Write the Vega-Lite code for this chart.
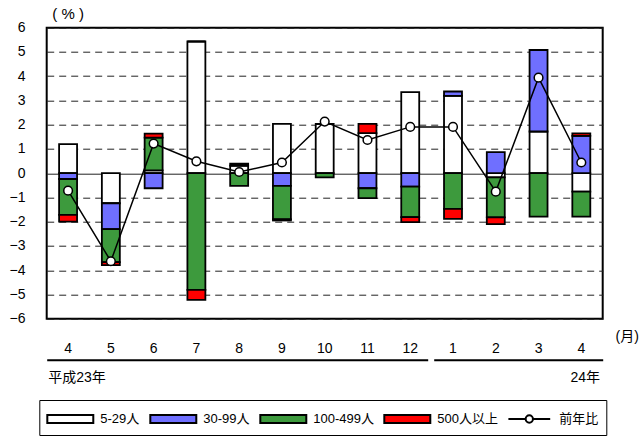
{
  "$schema": "https://vega.github.io/schema/vega-lite/v6.json",
  "width": 556,
  "height": 291,
  "autosize": {"type": "none"},
  "padding": {"left": 46.7, "top": 27.7, "right": 38.3, "bottom": 117.3},
  "config": {
    "view": {"stroke": "#000", "strokeWidth": 2},
    "font": "Liberation Sans, Noto Sans CJK JP, sans-serif"
  },
  "resolve": {"axis": {"x": "independent", "y": "independent"}},
  "datasets": {
    "bars": [
      {"m": "H23-4", "s": "5-29人", "k": 1, "v": 1.2},
      {"m": "H23-4", "s": "30-99人", "k": 2, "v": -0.24},
      {"m": "H23-4", "s": "100-499人", "k": 3, "v": -1.48},
      {"m": "H23-4", "s": "500人以上", "k": 4, "v": -0.28},
      {"m": "H23-5", "s": "5-29人", "k": 1, "v": -1.24},
      {"m": "H23-5", "s": "30-99人", "k": 2, "v": -1.07},
      {"m": "H23-5", "s": "100-499人", "k": 3, "v": -1.36},
      {"m": "H23-5", "s": "500人以上", "k": 4, "v": -0.12},
      {"m": "H23-6", "s": "5-29人", "k": 1, "v": 0.12},
      {"m": "H23-6", "s": "30-99人", "k": 2, "v": -0.62},
      {"m": "H23-6", "s": "100-499人", "k": 3, "v": 1.35},
      {"m": "H23-6", "s": "500人以上", "k": 4, "v": 0.16},
      {"m": "H23-7", "s": "5-29人", "k": 1, "v": 5.43},
      {"m": "H23-7", "s": "30-99人", "k": 2, "v": 0},
      {"m": "H23-7", "s": "100-499人", "k": 3, "v": -4.81},
      {"m": "H23-7", "s": "500人以上", "k": 4, "v": -0.41},
      {"m": "H23-8", "s": "5-29人", "k": 1, "v": 0.31},
      {"m": "H23-8", "s": "30-99人", "k": 2, "v": 0},
      {"m": "H23-8", "s": "100-499人", "k": 3, "v": -0.52},
      {"m": "H23-8", "s": "500人以上", "k": 4, "v": 0.08},
      {"m": "H23-9", "s": "5-29人", "k": 1, "v": 2.03},
      {"m": "H23-9", "s": "30-99人", "k": 2, "v": -0.52},
      {"m": "H23-9", "s": "100-499人", "k": 3, "v": -1.38},
      {"m": "H23-9", "s": "500人以上", "k": 4, "v": -0.05},
      {"m": "H23-10", "s": "5-29人", "k": 1, "v": 2.03},
      {"m": "H23-10", "s": "30-99人", "k": 2, "v": 0},
      {"m": "H23-10", "s": "100-499人", "k": 3, "v": -0.17},
      {"m": "H23-10", "s": "500人以上", "k": 4, "v": 0},
      {"m": "H23-11", "s": "5-29人", "k": 1, "v": 1.65},
      {"m": "H23-11", "s": "30-99人", "k": 2, "v": -0.62},
      {"m": "H23-11", "s": "100-499人", "k": 3, "v": -0.41},
      {"m": "H23-11", "s": "500人以上", "k": 4, "v": 0.38},
      {"m": "H23-12", "s": "5-29人", "k": 1, "v": 3.34},
      {"m": "H23-12", "s": "30-99人", "k": 2, "v": -0.55},
      {"m": "H23-12", "s": "100-499人", "k": 3, "v": -1.26},
      {"m": "H23-12", "s": "500人以上", "k": 4, "v": -0.21},
      {"m": "H24-1", "s": "5-29人", "k": 1, "v": 3.19},
      {"m": "H24-1", "s": "30-99人", "k": 2, "v": 0.18},
      {"m": "H24-1", "s": "100-499人", "k": 3, "v": -1.47},
      {"m": "H24-1", "s": "500人以上", "k": 4, "v": -0.41},
      {"m": "H24-2", "s": "5-29人", "k": 1, "v": -0.17},
      {"m": "H24-2", "s": "30-99人", "k": 2, "v": 0.87},
      {"m": "H24-2", "s": "100-499人", "k": 3, "v": -1.65},
      {"m": "H24-2", "s": "500人以上", "k": 4, "v": -0.28},
      {"m": "H24-3", "s": "5-29人", "k": 1, "v": 1.72},
      {"m": "H24-3", "s": "30-99人", "k": 2, "v": 3.36},
      {"m": "H24-3", "s": "100-499人", "k": 3, "v": -1.79},
      {"m": "H24-3", "s": "500人以上", "k": 4, "v": 0},
      {"m": "H24-4", "s": "5-29人", "k": 1, "v": -0.76},
      {"m": "H24-4", "s": "30-99人", "k": 2, "v": 1.54},
      {"m": "H24-4", "s": "100-499人", "k": 3, "v": -1.03},
      {"m": "H24-4", "s": "500人以上", "k": 4, "v": 0.1}
    ],
    "line": [
      {"m": "H23-4", "r": -0.72},
      {"m": "H23-5", "r": -3.63},
      {"m": "H23-6", "r": 1.22},
      {"m": "H23-7", "r": 0.49},
      {"m": "H23-8", "r": 0.05},
      {"m": "H23-9", "r": 0.44},
      {"m": "H23-10", "r": 2.13},
      {"m": "H23-11", "r": 1.37},
      {"m": "H23-12", "r": 1.91},
      {"m": "H24-1", "r": 1.91},
      {"m": "H24-2", "r": -0.76},
      {"m": "H24-3", "r": 3.94},
      {"m": "H24-4", "r": 0.44}
    ]
  },
  "layer": [
    {
      "data": {"name": "bars"},
      "mark": {"type": "bar", "stroke": "#000", "strokeWidth": 1.8},
      "encoding": {
        "x": {
          "field": "m",
          "type": "ordinal",
          "scale": {
            "domain": ["H23-4", "H23-5", "H23-6", "H23-7", "H23-8", "H23-9", "H23-10", "H23-11", "H23-12", "H24-1", "H24-2", "H24-3", "H24-4"],
            "paddingInner": 0.58,
            "paddingOuter": 0.29
          },
          "axis": {
            "orient": "bottom",
            "offset": 41,
            "title": "(月)",
            "titleX": 580,
            "titleY": -23.7,
            "titleAlign": "center",
            "titleBaseline": "middle",
            "titleFontSize": 14,
            "titleFontWeight": "normal",
            "titleColor": "#000",
            "labelExpr": "datum.value == 'H23-4' ? ['4', '\u200b\u3000\u00a0平成23年'] : datum.value == 'H24-4' ? ['4', '\u200b\u00a0\u00a024年'] : split(datum.value, '-')[1]",
            "labelPadding": -18,
            "labelBaseline": "top",
            "labelLineHeight": 28.5,
            "labelFontSize": 14,
            "labelAngle": 0,
            "labelOverlap": false,
            "labelBound": false,
            "labelColor": "#000",
            "ticks": false,
            "domainColor": "#000",
            "domainWidth": 2,
            "domainDash": [381, 6, 600],
            "grid": false
          }
        },
        "y": {
          "field": "v",
          "type": "quantitative",
          "stack": "zero",
          "scale": {"domain": [-6, 6], "nice": false, "zero": false},
          "axis": {
            "orient": "left",
            "values": [-6, -5, -4, -3, -2, -1, 0, 1, 2, 3, 4, 5, 6],
            "title": "(\u00a0%\u00a0)",
            "titleAngle": 0,
            "titleX": 21,
            "titleY": -14.7,
            "titleAlign": "center",
            "titleBaseline": "middle",
            "titleFontSize": 15,
            "titleFontWeight": "normal",
            "titleColor": "#000",
            "ticks": false,
            "domain": false,
            "labelPadding": 21.7,
            "labelFontSize": 14,
            "labelColor": "#000",
            "labelOverlap": false,
            "grid": true,
            "gridColor": "#222",
            "gridWidth": 1,
            "gridDash": {"condition": {"test": "datum.value === 0", "value": []}, "value": [7, 5]}
          }
        },
        "fill": {
          "field": "s",
          "type": "nominal",
          "scale": {
            "domain": ["5-29人", "30-99人", "100-499人", "500人以上", "前年比"],
            "range": ["#ffffff", "#6f6fff", "#3d9a3d", "#ff0000", "#ffffff"]
          },
          "legend": {
            "orient": "none",
            "legendX": -7.4,
            "legendY": 372.3,
            "direction": "horizontal",
            "columns": 5,
            "gridAlign": "none",
            "title": null,
            "strokeColor": "#000",
            "padding": 7,
            "symbolSize": 484,
            "symbolStrokeColor": "#000",
            "symbolStrokeWidth": 2,
            "symbolOffset": 12,
            "labelOffset": 18,
            "columnPadding": 6,
            "labelFontSize": 13,
            "labelColor": "#000",
            "encode": {
              "symbols": {
                "update": {
                  "shape": {"signal": "datum.value === '前年比' ? 'M-1.9,0H-0.33M0.33,0H1.9M-0.33,0A0.33,0.33,0,1,1,0.33,0A0.33,0.33,0,1,1,-0.33,0Z' : 'M-2.09,-0.364H2.09V0.364H-2.09Z'"}
                }
              }
            }
          }
        },
        "order": {"field": "k", "type": "quantitative", "sort": "ascending"}
      }
    },
    {
      "data": {"name": "line"},
      "mark": {
        "type": "line",
        "color": "#000",
        "strokeWidth": 1.5,
        "point": {"filled": true, "fill": "#fff", "stroke": "#000", "strokeWidth": 1.5, "size": 75}
      },
      "encoding": {
        "x": {"field": "m", "type": "ordinal", "axis": null},
        "y": {"field": "r", "type": "quantitative", "axis": null}
      }
    }
  ]
}
